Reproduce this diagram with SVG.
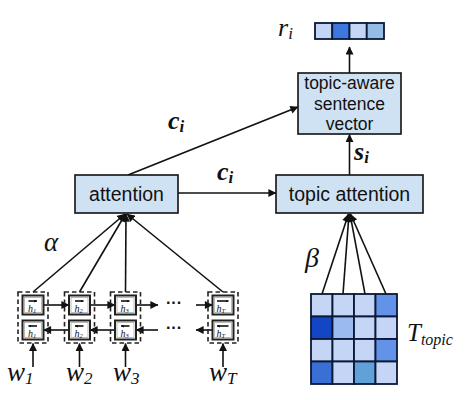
<svg xmlns="http://www.w3.org/2000/svg" width="469" height="400" viewBox="0 0 469 400">
<style>
.box{fill:#cfe2f3;stroke:#111;stroke-width:1.6}
.lbl{font-family:"Liberation Sans",Arial,sans-serif;fill:#111;text-anchor:middle}
.math{font-family:"Liberation Serif","DejaVu Serif",serif;font-style:italic;fill:#111}
.con{stroke:#111;stroke-width:1.6;fill:none}
.arr{marker-end:url(#ah)}
.sarr{marker-end:url(#sh)}
.dash{fill:none;stroke:#222;stroke-width:1.6;stroke-dasharray:4.5,3}
.hb{fill:#fff;stroke:#222;stroke-width:2}
.hbi{fill:none;stroke:#aaa;stroke-width:0.8}
.h{font-family:"Liberation Serif",serif;font-style:italic;font-size:10px;fill:#111}
.cell{stroke:#0b1836;stroke-width:1.8}
</style>
<defs>
<marker id="ah" viewBox="0 0 10 10" refX="9.5" refY="5" markerWidth="9" markerHeight="8" markerUnits="userSpaceOnUse" orient="auto">
<path d="M0,0 L10,5 L0,10 z" fill="#111"/>
</marker>
<marker id="sh" viewBox="0 0 10 10" refX="9.5" refY="5" markerWidth="3.2" markerHeight="3" markerUnits="userSpaceOnUse" orient="auto">
<path d="M0,0 L10,5 L0,10 z" fill="#111"/>
</marker>
</defs>

<g id="connectors">
<line class="con arr" x1="349.5" y1="73" x2="349.5" y2="47"/>
<line class="con arr" x1="349.5" y1="175" x2="349.5" y2="134.5"/>
<line class="con arr" x1="178" y1="193" x2="276" y2="193"/>
<line class="con arr" x1="128" y1="175" x2="298" y2="107"/>
<line class="con arr" x1="33" y1="292" x2="125" y2="214"/>
<line class="con arr" x1="79.5" y1="292" x2="125.5" y2="214"/>
<line class="con arr" x1="125.5" y1="292" x2="126" y2="214"/>
<line class="con arr" x1="223" y1="292" x2="127" y2="214"/>
<line class="con arr" x1="322" y1="294" x2="348.5" y2="214"/>
<line class="con arr" x1="343" y1="294" x2="349" y2="214"/>
<line class="con arr" x1="365" y1="294" x2="350" y2="214"/>
<line class="con arr" x1="386" y1="294" x2="350.5" y2="214"/>
<line class="con arr" x1="43.5" y1="305" x2="69" y2="305"/>
<line class="con arr" x1="90" y1="305" x2="115" y2="305"/>
<line class="con arr" x1="136" y1="305" x2="158" y2="305"/>
<line class="con arr" x1="196" y1="305" x2="212.5" y2="305"/>
<line class="con arr" x1="69" y1="330" x2="43.5" y2="330"/>
<line class="con arr" x1="115" y1="330" x2="90" y2="330"/>
<line class="con arr" x1="158" y1="330" x2="136" y2="330"/>
<line class="con arr" x1="212.5" y1="330" x2="196" y2="330"/>
<line class="con arr" x1="33" y1="367" x2="33" y2="343.5"/>
<line class="con arr" x1="79.5" y1="367" x2="79.5" y2="343.5"/>
<line class="con arr" x1="125.5" y1="367" x2="125.5" y2="343.5"/>
<line class="con arr" x1="223" y1="367" x2="223" y2="343.5"/>
</g>

<g id="dots">
<text x="174" y="308" class="lbl" font-size="16" font-weight="bold">···</text>
<text x="174" y="333" class="lbl" font-size="16" font-weight="bold">···</text>
</g>

<g id="ri-vector">
<rect class="cell" x="315" y="23" width="17.25" height="16" fill="#c4d5f5"/>
<rect class="cell" x="332.25" y="23" width="17.25" height="16" fill="#3d78e0"/>
<rect class="cell" x="349.5" y="23" width="17.25" height="16" fill="#c4d5f5"/>
<rect class="cell" x="366.75" y="23" width="17.25" height="16" fill="#96bce6"/>
</g>

<g id="topic-aware">
<rect class="box" x="298" y="73" width="103" height="61"/>
<text class="lbl" font-size="17.5" x="349.5" y="89">topic-aware</text>
<text class="lbl" font-size="17.5" x="349.5" y="110">sentence</text>
<text class="lbl" font-size="17.5" x="349.5" y="130">vector</text>
</g>

<g id="attention">
<rect class="box" x="75" y="175" width="103" height="38"/>
<text class="lbl" font-size="19.5" x="126.5" y="201">attention</text>
</g>

<g id="topic-attention">
<rect class="box" x="276" y="175" width="147" height="38"/>
<text class="lbl" font-size="19.5" x="349.5" y="201">topic attention</text>
</g>

<g id="rnn">
<g id="h1">
<rect class="dash" x="18" y="292" width="30" height="51"/>
<rect class="hb" x="22.5" y="295.5" width="21" height="19"/><rect class="hbi" x="24.5" y="297.5" width="17" height="15"/>
<rect class="hb" x="22.5" y="320.5" width="21" height="19"/><rect class="hbi" x="24.5" y="322.5" width="17" height="15"/>
<text class="h" x="28" y="311.5">h<tspan font-size="6.5" dy="1.5">1</tspan></text>
<line class="con sarr" stroke-width="0.7" x1="28.5" y1="301" x2="37" y2="301"/>
<text class="h" x="28" y="336.5">h<tspan font-size="6.5" dy="1.5">1</tspan></text>
<line class="con sarr" stroke-width="0.7" x1="37" y1="326" x2="28.5" y2="326"/>
</g>
<g id="h2">
<rect class="dash" x="64.5" y="292" width="30" height="51"/>
<rect class="hb" x="69" y="295.5" width="21" height="19"/><rect class="hbi" x="71" y="297.5" width="17" height="15"/>
<rect class="hb" x="69" y="320.5" width="21" height="19"/><rect class="hbi" x="71" y="322.5" width="17" height="15"/>
<text class="h" x="74.5" y="311.5">h<tspan font-size="6.5" dy="1.5">2</tspan></text>
<line class="con sarr" stroke-width="0.7" x1="75" y1="301" x2="83.5" y2="301"/>
<text class="h" x="74.5" y="336.5">h<tspan font-size="6.5" dy="1.5">2</tspan></text>
<line class="con sarr" stroke-width="0.7" x1="83.5" y1="326" x2="75" y2="326"/>
</g>
<g id="h3">
<rect class="dash" x="110.5" y="292" width="30" height="51"/>
<rect class="hb" x="115" y="295.5" width="21" height="19"/><rect class="hbi" x="117" y="297.5" width="17" height="15"/>
<rect class="hb" x="115" y="320.5" width="21" height="19"/><rect class="hbi" x="117" y="322.5" width="17" height="15"/>
<text class="h" x="120.5" y="311.5">h<tspan font-size="6.5" dy="1.5">3</tspan></text>
<line class="con sarr" stroke-width="0.7" x1="121" y1="301" x2="129.5" y2="301"/>
<text class="h" x="120.5" y="336.5">h<tspan font-size="6.5" dy="1.5">3</tspan></text>
<line class="con sarr" stroke-width="0.7" x1="129.5" y1="326" x2="121" y2="326"/>
</g>
<g id="hT">
<rect class="dash" x="208" y="292" width="30" height="51"/>
<rect class="hb" x="212.5" y="295.5" width="21" height="19"/><rect class="hbi" x="214.5" y="297.5" width="17" height="15"/>
<rect class="hb" x="212.5" y="320.5" width="21" height="19"/><rect class="hbi" x="214.5" y="322.5" width="17" height="15"/>
<text class="h" x="216.5" y="311.5">h<tspan font-size="6.5" dy="1.5">T</tspan></text>
<line class="con sarr" stroke-width="0.7" x1="217" y1="301" x2="228.5" y2="301"/>
<text class="h" x="216.5" y="336.5">h<tspan font-size="6.5" dy="1.5">T</tspan></text>
<line class="con sarr" stroke-width="0.7" x1="228.5" y1="326" x2="217" y2="326"/>
</g>
</g>

<g id="topic-matrix">
<rect class="cell" x="311" y="294" width="21.5" height="22.5" fill="#c4d5f5"/>
<rect class="cell" x="332.5" y="294" width="21.5" height="22.5" fill="#c4d5f5"/>
<rect class="cell" x="354" y="294" width="21.5" height="22.5" fill="#c4d5f5"/>
<rect class="cell" x="375.5" y="294" width="21.5" height="22.5" fill="#6393e8"/>
<rect class="cell" x="311" y="316.5" width="21.5" height="22.5" fill="#1246c4"/>
<rect class="cell" x="332.5" y="316.5" width="21.5" height="22.5" fill="#9bbaf0"/>
<rect class="cell" x="354" y="316.5" width="21.5" height="22.5" fill="#c4d5f5"/>
<rect class="cell" x="375.5" y="316.5" width="21.5" height="22.5" fill="#c4d5f5"/>
<rect class="cell" x="311" y="339" width="21.5" height="22.5" fill="#c4d5f5"/>
<rect class="cell" x="332.5" y="339" width="21.5" height="22.5" fill="#c4d5f5"/>
<rect class="cell" x="354" y="339" width="21.5" height="22.5" fill="#c4d5f5"/>
<rect class="cell" x="375.5" y="339" width="21.5" height="22.5" fill="#6393e8"/>
<rect class="cell" x="311" y="361.5" width="21.5" height="22.5" fill="#3a6fd6"/>
<rect class="cell" x="332.5" y="361.5" width="21.5" height="22.5" fill="#c4d5f5"/>
<rect class="cell" x="354" y="361.5" width="21.5" height="22.5" fill="#62a0d8"/>
<rect class="cell" x="375.5" y="361.5" width="21.5" height="22.5" fill="#c4d5f5"/>
</g>

<g id="labels">
<text class="math" font-size="26" x="278" y="36">r<tspan font-size="17" dy="3">i</tspan></text>
<text class="math" font-size="26" font-weight="bold" x="168" y="129">c<tspan font-size="17" dy="3">i</tspan></text>
<text class="math" font-size="26" font-weight="bold" x="217" y="180">c<tspan font-size="17" dy="3">i</tspan></text>
<text class="math" font-size="26" font-weight="bold" x="354" y="160">s<tspan font-size="17" dy="3">i</tspan></text>
<text class="math" font-size="27" x="44" y="251">α</text>
<text class="math" font-size="28" x="305" y="267">β</text>
<text class="math" font-size="25" x="407" y="341">T<tspan font-size="16" dy="4">topic</tspan></text>
<text class="math" font-size="27" x="7" y="381">w<tspan font-size="17" dy="3">1</tspan></text>
<text class="math" font-size="27" x="66" y="381">w<tspan font-size="17" dy="3">2</tspan></text>
<text class="math" font-size="27" x="113" y="381">w<tspan font-size="17" dy="3">3</tspan></text>
<text class="math" font-size="27" x="209" y="381">w<tspan font-size="17" dy="3">T</tspan></text>
</g>
</svg>
